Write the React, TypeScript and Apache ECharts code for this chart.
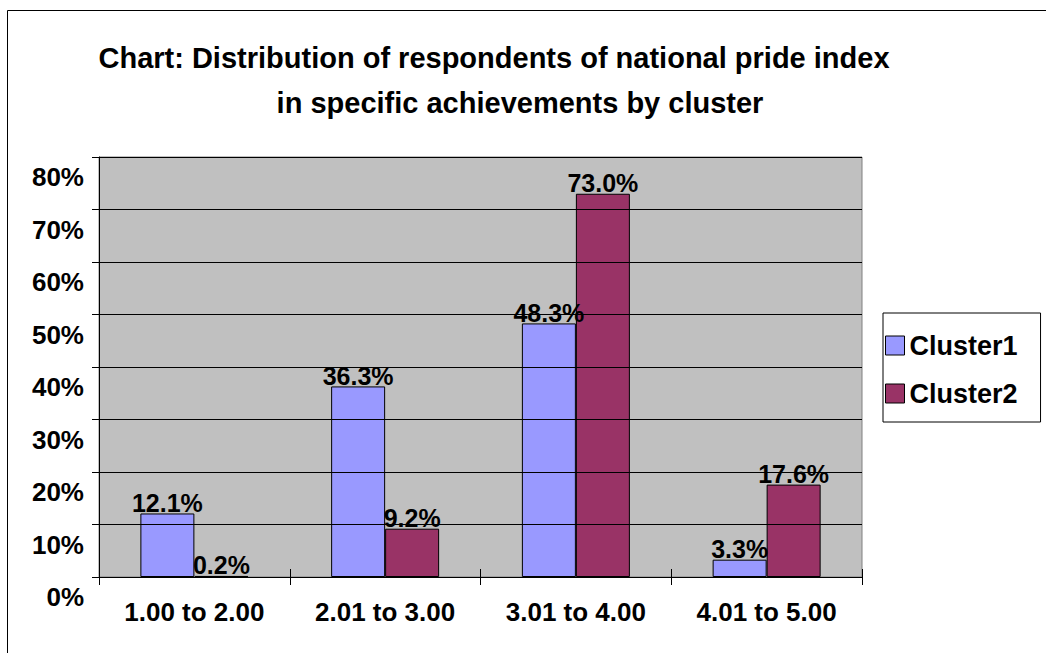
import React, { useEffect, useRef } from "react";
import * as echarts from "echarts";

const categories = ["1.00 to 2.00", "2.01 to 3.00", "3.01 to 4.00", "4.01 to 5.00"];
const cluster1 = [12.1, 36.3, 48.3, 3.3];
const cluster2 = [0.2, 9.2, 73.0, 17.6];
const seriesNames = ["Cluster1", "Cluster2"];
const titleLines = [
  "Chart: Distribution of respondents of national pride index",
  "in specific achievements by cluster",
];

const FONT = "'Liberation Sans', Arial, Helvetica, sans-serif";

export default function App() {
  const ref = useRef<HTMLDivElement>(null);
  useEffect(() => {
    document.body.style.margin = "0";
    if (!ref.current) return;
    const chart = echarts.init(ref.current, null, { renderer: "svg" });
    const labelStyle = {
      show: true,
      position: "top" as const,
      distance: -2,
      fontFamily: FONT,
      fontSize: 25,
      fontWeight: "bold" as const,
      color: "#000",
      formatter: (p: any) => Number(p.value).toFixed(1) + "%",
    };
    chart.setOption({
      animation: false,
      backgroundColor: "#fff",
      textStyle: { fontFamily: FONT },
      graphic: [
        {
          type: "rect",
          z: -10,
          shape: { x: 7.5, y: 10.5, width: 1100, height: 700 },
          style: { fill: "none", stroke: "#000", lineWidth: 1 },
        },
        {
          type: "text",
          x: 494,
          y: 58,
          style: {
            text: titleLines[0],
            fontFamily: FONT,
            fontSize: 29,
            fontWeight: "bold",
            fill: "#000",
            textAlign: "center",
            textVerticalAlign: "middle",
          },
        },
        {
          type: "text",
          x: 520,
          y: 103,
          style: {
            text: titleLines[1],
            fontFamily: FONT,
            fontSize: 29,
            fontWeight: "bold",
            fill: "#000",
            textAlign: "center",
            textVerticalAlign: "middle",
          },
        },
      ],
      grid: {
        left: 99,
        right: 184,
        top: 157,
        bottom: 76,
        show: true,
        backgroundColor: "#C0C0C0",
        borderColor: "#808080",
        borderWidth: 1,
        containLabel: false,
      },
      legend: {
        orient: "vertical",
        left: 883,
        top: 313,
        padding: [19, 23, 15, 2],
        borderColor: "#000",
        borderWidth: 1,
        borderRadius: 0,
        itemWidth: 19,
        itemHeight: 19,
        itemGap: 21,
        itemTextGap: 6,
        icon: "rect",
        itemStyle: { borderColor: "#000", borderWidth: 1 },
        textStyle: { fontFamily: FONT, fontSize: 27, fontWeight: "bold", color: "#000" },
        data: seriesNames,
      },
      xAxis: [
        {
          type: "category",
          data: categories,
          axisLine: { show: true, lineStyle: { color: "#000", width: 1 } },
          axisTick: { show: true, alignWithLabel: false, inside: false, length: 8, lineStyle: { color: "#000" } },
          axisLabel: {
            margin: 22,
            fontFamily: FONT,
            fontSize: 26,
            fontWeight: "bold",
            color: "#000",
            interval: 0,
          },
          splitLine: { show: false },
        },
        {
          type: "category",
          data: categories,
          position: "bottom",
          axisLine: { show: false },
          axisTick: { show: true, alignWithLabel: false, inside: true, length: 8, lineStyle: { color: "#000" } },
          axisLabel: { show: false },
          splitLine: { show: false },
        },
      ],
      yAxis: [
        {
          type: "value",
          min: 0,
          max: 80,
          interval: 10,
          z: 5,
          axisLine: { show: true, lineStyle: { color: "#000", width: 1 } },
          axisTick: { show: true, inside: false, length: 7, lineStyle: { color: "#000" } },
          axisLabel: {
            formatter: "{value}%",
            margin: 15,
            fontFamily: FONT,
            fontSize: 26,
            fontWeight: "bold",
            color: "#000",
            verticalAlign: "top",
            lineHeight: 40,
            showMinLabel: true,
            showMaxLabel: true,
            hideOverlap: false,
          },
          splitLine: { show: true, lineStyle: { color: "#000", width: 1 } },
        },
        {
          type: "value",
          min: 0,
          max: 80,
          interval: 10,
          position: "left",
          axisLine: { show: false },
          axisTick: { show: true, inside: true, length: 8, lineStyle: { color: "#000" } },
          axisLabel: { show: false },
          splitLine: { show: false },
        },
      ],
      series: [
        {
          name: seriesNames[0],
          type: "bar",
          data: cluster1,
          barWidth: 54,
          barGap: "0%",
          itemStyle: { color: "#9999FF", borderColor: "#000", borderWidth: 1 },
          label: labelStyle,
        },
        {
          name: seriesNames[1],
          type: "bar",
          data: cluster2,
          barWidth: 54,
          barGap: "0%",
          itemStyle: { color: "#993366", borderColor: "#000", borderWidth: 1 },
          label: labelStyle,
        },
      ],
    });
    return () => chart.dispose();
  }, []);
  return <div ref={ref} style={{ width: 1046, height: 653 }} />;
}
